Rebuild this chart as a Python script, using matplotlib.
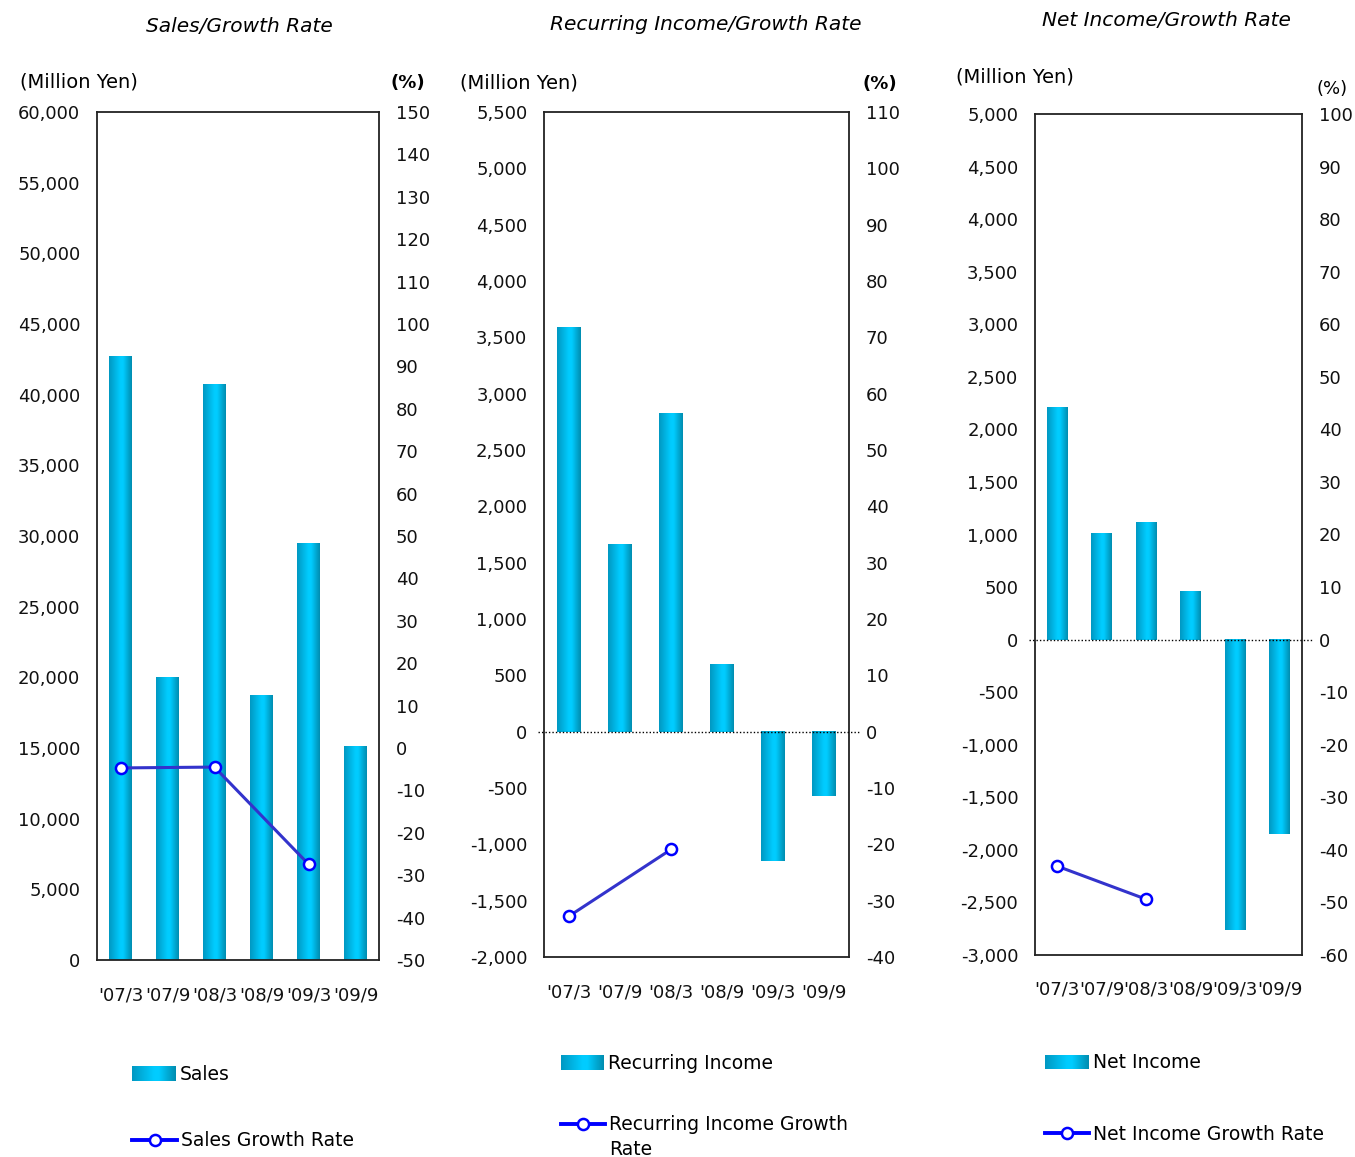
import numpy as np
import matplotlib
matplotlib.use("Agg")
import matplotlib.pyplot as plt
from matplotlib.colors import LinearSegmentedColormap
from matplotlib.lines import Line2D

# ---------------- data ----------------
categories = ["'07/3", "'07/9", "'08/3", "'08/9", "'09/3", "'09/9"]
growth_periods = ["'07/3", "'08/3", "'09/3"]

sales = [42700, 20000, 40700, 18700, 29500, 15100]
sales_growth = [-4.7, -4.5, -27.4]

recurring = [3590, 1660, 2830, 600, -1145, -575]
recurring_growth = [-32.7, -20.9]

net_income = [2213, 1014, 1119, 462, -2762, -1849]
net_growth = [-43.1, -49.4]

sales_left_ticks = list(range(0, 60001, 5000))
sales_right_ticks = list(range(-50, 151, 10))
rec_left_ticks = list(range(-2000, 5501, 500))
rec_right_ticks = list(range(-40, 111, 10))
net_left_ticks = list(range(-3000, 5001, 500))
net_right_ticks = list(range(-60, 101, 10))

# ---------------- style ----------------
W, H = 1355, 1157
plt.rcParams['font.family'] = ['DejaVu Sans']
fig = plt.figure(figsize=(W / 100, H / 100), dpi=100)

cmap = LinearSegmentedColormap.from_list(
    'bar', [(0, '#0098C2'), (0.5, '#00CCFF'), (0.62, '#00CCFF'), (1, '#008DB0')])
grad = np.linspace(0, 1, 64).reshape(1, -1)

LINE_C = '#3333CC'
MARK_C = '#0000FF'
TICK_FS = 13


def fx(x):
    return x / W


def fy(y):
    return 1 - y / H


def gradient_bars(ax, vals, width=0.47):
    x = np.arange(len(vals))
    bars = ax.bar(x, vals, width, color='none', edgecolor='none')
    for b in bars:
        x0, y0 = b.get_x(), b.get_y()
        w, h = b.get_width(), b.get_height()
        ax.imshow(grad, cmap=cmap, extent=(x0, x0 + w, y0, y0 + h),
                  aspect='auto', zorder=2, interpolation='bilinear')


def fmt_left(v):
    return f"{v:,}"


def make_panel(rect_px, vals, growth, lticks, rticks, xpad, zero_ext=None):
    l, t, r, b = rect_px
    ax = fig.add_axes([fx(l), fy(b), fx(r) - fx(l), (b - t) / H])
    gradient_bars(ax, vals)
    ax.set_xlim(-0.5, len(vals) - 0.5)
    ax.set_ylim(lticks[0], lticks[-1])
    ax.set_yticks(lticks)
    ax.set_yticklabels([fmt_left(v) for v in lticks])
    ax.set_xticks(np.arange(len(categories)))
    ax.set_xticklabels(categories)
    ax.tick_params(axis='both', length=0, labelsize=TICK_FS, colors='#111111')
    ax.tick_params(axis='y', pad=12)
    ax.tick_params(axis='x', pad=xpad)
    for s in ax.spines.values():
        s.set_color('#222222')
        s.set_linewidth(1.3)

    ax2 = ax.twinx()
    ax2.set_ylim(rticks[0], rticks[-1])
    ax2.set_yticks(rticks)
    ax2.set_yticklabels([str(v) for v in rticks])
    ax2.tick_params(axis='y', length=0, labelsize=TICK_FS, pad=12, colors='#111111')
    for s in ax2.spines.values():
        s.set_visible(False)
    gx = [categories.index(p) for p in growth_periods[:len(growth)]]
    ax2.plot(gx, growth, color=LINE_C, lw=2.2, zorder=3)
    ax2.plot(gx, growth, ls='none', marker='o', ms=8, mfc='white',
             mec=MARK_C, mew=1.8, zorder=4)

    if zero_ext is not None:
        a0, a1 = zero_ext
        wpx = r - l
        ax.plot([-(l - a0) / wpx, 1 + (a1 - r) / wpx], [0, 0],
                transform=ax.get_yaxis_transform(), color='black',
                lw=1.0, ls=(0, (1, 1.5)), clip_on=False, zorder=5)
    return ax, ax2


make_panel((97, 112, 379, 960), sales, sales_growth,
           sales_left_ticks, sales_right_ticks, xpad=19)
make_panel((544, 112, 849, 957), recurring, recurring_growth,
           rec_left_ticks, rec_right_ticks, xpad=19, zero_ext=(538, 860))
make_panel((1035, 114, 1302, 955), net_income, net_growth,
           net_left_ticks, net_right_ticks, xpad=18, zero_ext=(1029, 1313))

# ---------------- titles & unit labels ----------------
TITLE_FS = 14.5
fig.text(fx(239), fy(27), "Sales/Growth Rate", style='italic', fontsize=TITLE_FS,
         ha='center', va='center')
fig.text(fx(706), fy(25), "Recurring Income/Growth Rate", style='italic',
         fontsize=TITLE_FS, ha='center', va='center')
fig.text(fx(1166), fy(21), "Net Income/Growth Rate", style='italic',
         fontsize=TITLE_FS, ha='center', va='center')

UNIT_FS = 14
fig.text(fx(20), fy(82), "(Million Yen)", fontsize=UNIT_FS, ha='left', va='center')
fig.text(fx(460), fy(83), "(Million Yen)", fontsize=UNIT_FS, ha='left', va='center')
fig.text(fx(956), fy(77), "(Million Yen)", fontsize=UNIT_FS, ha='left', va='center')
fig.text(fx(390), fy(83), "(%)", fontsize=13, ha='left', va='center', weight='bold')
fig.text(fx(863), fy(84), "(%)", fontsize=13, ha='left', va='center', weight='bold')
fig.text(fx(1316), fy(89), "(%)", fontsize=13, ha='left', va='center')

# ---------------- legends ----------------
LEG_FS = 13.5


def legend_patch(x0, x1, y0, y1, label):
    lax = fig.add_axes([fx(x0), fy(y1), (x1 - x0) / W, (y1 - y0) / H])
    lax.imshow(grad, cmap=cmap, aspect='auto', interpolation='bilinear')
    lax.axis('off')
    fig.text(fx(x1 + 4), fy((y0 + y1) / 2 + 1), label, fontsize=LEG_FS,
             ha='left', va='center')


def legend_line(x0, x1, y, label, va='center', ty=None):
    fig.add_artist(Line2D([fx(x0), fx(x1)], [fy(y), fy(y)], color=MARK_C, lw=2.8))
    fig.add_artist(Line2D([fx((x0 + x1) / 2)], [fy(y)], ls='none', marker='o',
                          ms=8, mfc='white', mec=MARK_C, mew=1.8))
    fig.text(fx(x1 + 4), fy(ty if ty is not None else y + 1), label,
             fontsize=LEG_FS, ha='left', va=va, linespacing=1.4)


legend_patch(132, 176, 1066, 1081, "Sales")
legend_line(132, 177, 1140, "Sales Growth Rate")
legend_patch(561, 604, 1055, 1070, "Recurring Income")
legend_line(561, 605, 1124, "Recurring Income Growth\nRate", va='top', ty=1115)
legend_patch(1045, 1089, 1055, 1069, "Net Income")
legend_line(1045, 1089, 1133, "Net Income Growth Rate")

fig.savefig("out.png", dpi=100)
